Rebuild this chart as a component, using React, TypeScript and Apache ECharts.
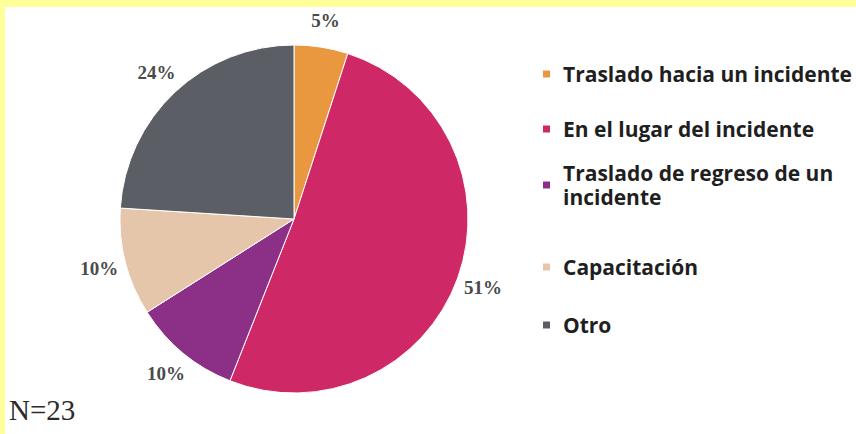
import React, { useEffect, useRef } from "react";
import * as echarts from "echarts";

const categories = [
  "Traslado hacia un incidente",
  "En el lugar del incidente",
  "Traslado de regreso de un incidente",
  "Capacitación",
  "Otro",
];
const values = [5, 51, 10, 10, 24];
const colors = ["#EA9840", "#CE2866", "#8C3087", "#E6C6AA", "#5B5E64"];
const legendCenters = [74, 129, 185, 267, 325];
const sampleLabel = "N=23";

export default function App() {
  const ref = useRef<HTMLDivElement>(null);
  useEffect(() => {
    if (!ref.current) return;
    const chart = echarts.init(ref.current, undefined, { renderer: "svg" });
    const legendFont = {
      fontFamily: "Open Sans",
      fontWeight: "bold" as const,
      fontSize: 21,
      color: "#1f1f1f",
      lineHeight: 24,
    };
    const legends = categories.map((name, i) => {
      const twoLine = name === "Traslado de regreso de un incidente";
      return {
        orient: "vertical",
        left: 541,
        top: legendCenters[i] - (twoLine ? 36 : 12),
        padding: 0,
        icon: "rect",
        itemWidth: 9,
        itemHeight: 9,
        selectedMode: false,
        data: [{ name, itemStyle: { color: colors[i] } }],
        formatter: (n: string) =>
          n === "Traslado de regreso de un incidente"
            ? "Traslado de regreso de un\nincidente"
            : n,
        textStyle: {
          ...legendFont,
          padding: twoLine ? [24, 0, 0, 7] : [0, 0, 0, 7],
        },
      };
    });
    const pieData = categories.map((name, i) => ({
      name,
      value: values[i],
      itemStyle: { color: colors[i] },
    }));
    chart.setOption({
      animation: false,
      backgroundColor: "#ffffff",
      legend: legends,
      graphic: [
        { type: "rect", left: 0, top: 0, shape: { width: 856, height: 7 }, style: { fill: "#FFFF99" }, silent: true },
        { type: "rect", left: 0, top: 0, shape: { width: 5, height: 434 }, style: { fill: "#FFFF99" }, silent: true },
        {
          type: "text",
          left: 9,
          top: 395,
          style: {
            text: sampleLabel,
            font: "29px 'Liberation Serif', serif",
            fill: "#2b2b2b",
          },
        },
      ],
      series: [
        {
          type: "pie",
          center: [294, 219],
          radius: 174,
          startAngle: 90,
          clockwise: true,
          silent: true,
          label: { show: false },
          labelLine: { show: false },
          itemStyle: { borderColor: "#ffffff", borderWidth: 1 },
          data: pieData,
        },
        {
          type: "pie",
          center: [294, 219],
          radius: [190, 206],
          startAngle: 90,
          clockwise: true,
          silent: true,
          avoidLabelOverlap: false,
          itemStyle: { color: "rgba(0,0,0,0)" },
          labelLine: { show: false },
          label: {
            show: true,
            position: "inside",
            rotate: 0,
            formatter: "{c}%",
            fontFamily: "Liberation Serif",
            fontWeight: "bold",
            fontSize: 19,
            color: "#4a4a4a",
          },
          data: categories.map((name, i) => ({ name, value: values[i] })),
        },
      ],
    });
    return () => chart.dispose();
  }, []);
  return (
    <div
      ref={ref}
      style={{ position: "fixed", left: 0, top: 0, width: 856, height: 434 }}
    />
  );
}
